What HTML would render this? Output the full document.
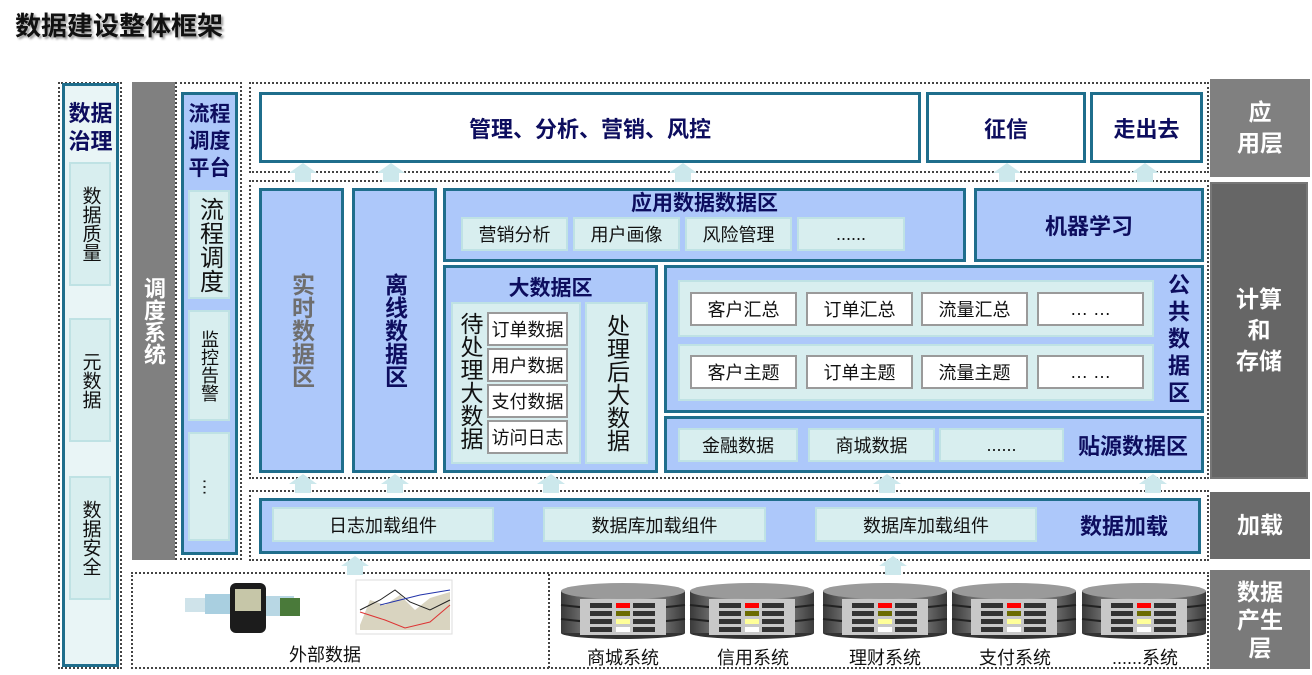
<!DOCTYPE html>
<html><head><meta charset="utf-8"><style>
*{margin:0;padding:0;box-sizing:border-box}
body{width:1312px;height:675px;background:#fff;position:relative;overflow:hidden;font-family:"Liberation Sans","Noto Sans CJK SC",sans-serif}
.a{position:absolute}
.dot{position:absolute;border:2px dotted #444}
.bl{position:absolute;background:#adc8fa;border:3px solid #1f6e8c}
.wh{position:absolute;background:#fff;border:3px solid #1f6e8c}
.lt{position:absolute;background:#d8eeef;border:2px solid #bfe2e4;display:flex;align-items:center;justify-content:center;font-size:18px;color:#111}
.wb{position:absolute;background:#fff;border:2px solid #9a9a9a;display:flex;align-items:center;justify-content:center;font-size:18px;color:#111}
.t{position:absolute;display:flex;align-items:center;justify-content:center;font-weight:bold;color:#0d0d5e;text-align:center}
.g{position:absolute;color:#fff;font-weight:bold;font-size:23px;display:flex;align-items:center;justify-content:center;text-align:center;line-height:31px}
.v{writing-mode:vertical-rl;text-orientation:upright}
</style></head><body>
<div class="a" style="left:15px;top:6px;font-size:26px;font-weight:bold;color:#111;text-shadow:2px 2px 2px #999">数据建设整体框架</div>

<div class="dot" style="left:58px;top:82px;width:64px;height:587px"></div>
<div class="a" style="left:62px;top:83px;width:57px;height:584px;background:#e9f5f6;border:3px solid #1f6e8c"></div>
<div class="t" style="left:62px;top:98px;width:57px;height:60px;font-size:22px;line-height:28px">数据<br>治理</div>
<div class="lt v" style="left:69px;top:162px;width:42px;height:124px;font-size:19px">数据质量</div>
<div class="lt v" style="left:69px;top:318px;width:42px;height:124px;font-size:19px">元数据</div>
<div class="lt v" style="left:69px;top:476px;width:42px;height:124px;font-size:19px">数据安全</div>

<div class="g v" style="left:132px;top:82px;width:43px;height:478px;background:#808080;font-size:22px">调度系统</div>
<div class="dot" style="left:175px;top:82px;width:67px;height:478px"></div>
<div class="bl" style="left:181px;top:92px;width:57px;height:463px"></div>
<div class="t" style="left:181px;top:98px;width:57px;height:86px;font-size:21px;line-height:27px">流程<br>调度<br>平台</div>
<div class="lt v" style="left:188px;top:190px;width:42px;height:109px;font-size:24px">流程调度</div>
<div class="lt v" style="left:188px;top:310px;width:42px;height:111px;font-size:18px">监控告警</div>
<div class="lt" style="left:188px;top:432px;width:42px;height:109px;font-size:18px;writing-mode:vertical-rl">…</div>

<div class="dot" style="left:249px;top:82px;width:960px;height:91px"></div>
<div class="wh t" style="left:259px;top:92px;width:662px;height:71px;font-size:22px">管理、分析、营销、风控</div>
<div class="wh t" style="left:926px;top:92px;width:160px;height:71px;font-size:22px">征信</div>
<div class="wh t" style="left:1090px;top:92px;width:113px;height:71px;font-size:22px">走出去</div>
<div class="g" style="left:1210px;top:79px;width:100px;height:98px;background:#808080">应<br>用层</div>

<div class="dot" style="left:249px;top:180px;width:960px;height:299px"></div>
<div class="bl t v" style="left:259px;top:188px;width:85px;height:285px;font-size:23px;color:#6e6e6e">实时数据区</div>
<div class="bl t v" style="left:352px;top:188px;width:85px;height:285px;font-size:23px">离线数据区</div>
<div class="bl" style="left:443px;top:188px;width:523px;height:74px"></div>
<div class="t" style="left:443px;top:188px;width:523px;height:28px;font-size:21px">应用数据数据区</div>
<div class="lt" style="left:461px;top:217px;width:107px;height:34px">营销分析</div>
<div class="lt" style="left:573px;top:217px;width:107px;height:34px">用户画像</div>
<div class="lt" style="left:685px;top:217px;width:107px;height:34px">风险管理</div>
<div class="lt" style="left:797px;top:217px;width:108px;height:34px">......</div>
<div class="bl t" style="left:974px;top:188px;width:230px;height:74px;font-size:22px">机器学习</div>

<div class="bl" style="left:443px;top:265px;width:215px;height:208px"></div>
<div class="t" style="left:443px;top:273px;width:215px;height:28px;font-size:21px">大数据区</div>
<div class="a" style="left:451px;top:302px;width:130px;height:162px;background:#d8eeef;border:2px solid #bfe2e4"></div>
<div class="a v" style="left:457px;top:312px;width:30px;height:150px;font-size:23px;letter-spacing:0;color:#111">待处理大数据</div>
<div class="wb" style="left:487px;top:312px;width:81px;height:34px">订单数据</div>
<div class="wb" style="left:487px;top:348px;width:81px;height:34px">用户数据</div>
<div class="wb" style="left:487px;top:384px;width:81px;height:34px">支付数据</div>
<div class="wb" style="left:487px;top:420px;width:81px;height:34px">访问日志</div>
<div class="lt v" style="left:585px;top:302px;width:63px;height:162px;font-size:23px">处理后大数据</div>

<div class="bl" style="left:664px;top:265px;width:540px;height:148px"></div>
<div class="a" style="left:678px;top:280px;width:476px;height:57px;background:#d8eeef;border:2px solid #bfe2e4"></div>
<div class="a" style="left:678px;top:344px;width:476px;height:57px;background:#d8eeef;border:2px solid #bfe2e4"></div>
<div class="wb" style="left:690px;top:292px;width:107px;height:34px">客户汇总</div>
<div class="wb" style="left:806px;top:292px;width:107px;height:34px">订单汇总</div>
<div class="wb" style="left:921px;top:292px;width:107px;height:34px">流量汇总</div>
<div class="wb" style="left:1037px;top:292px;width:107px;height:34px">… …</div>
<div class="wb" style="left:690px;top:355px;width:107px;height:34px">客户主题</div>
<div class="wb" style="left:806px;top:355px;width:107px;height:34px">订单主题</div>
<div class="wb" style="left:921px;top:355px;width:107px;height:34px">流量主题</div>
<div class="wb" style="left:1037px;top:355px;width:107px;height:34px">… …</div>
<div class="t v" style="left:1160px;top:270px;width:34px;height:140px;font-size:22px;letter-spacing:5px">公共数据区</div>

<div class="bl" style="left:664px;top:416px;width:540px;height:57px"></div>
<div class="lt" style="left:678px;top:428px;width:120px;height:34px">金融数据</div>
<div class="lt" style="left:808px;top:428px;width:127px;height:34px">商城数据</div>
<div class="lt" style="left:939px;top:428px;width:125px;height:34px">......</div>
<div class="t" style="left:1068px;top:428px;width:130px;height:34px;font-size:22px">贴源数据区</div>
<div class="g" style="left:1210px;top:182px;width:98px;height:297px;background:#666;border:2px solid #777">计算<br>和<br>存储</div>

<div class="dot" style="left:249px;top:490px;width:960px;height:71px"></div>
<div class="bl" style="left:259px;top:498px;width:942px;height:56px"></div>
<div class="lt" style="left:272px;top:507px;width:222px;height:35px">日志加载组件</div>
<div class="lt" style="left:543px;top:507px;width:223px;height:35px">数据库加载组件</div>
<div class="lt" style="left:815px;top:507px;width:222px;height:35px">数据库加载组件</div>
<div class="t" style="left:1060px;top:507px;width:128px;height:35px;font-size:22px">数据加载</div>
<div class="g" style="left:1210px;top:492px;width:100px;height:67px;background:#6b6b6b">加载</div>

<div class="dot" style="left:131px;top:572px;width:1078px;height:97px"></div>
<div class="a" style="left:548px;top:574px;width:0;height:94px;border-left:2px dotted #444"></div>
<div class="g" style="left:1210px;top:570px;width:100px;height:99px;background:#7a7a7a;line-height:28px">数据<br>产生<br>层</div>
<div class="a" style="left:270px;top:641px;width:110px;text-align:center;font-size:18px;color:#111">外部数据</div>
<div class="a" style="left:560px;top:644px;width:126px;text-align:center;font-size:18px;color:#111">商城系统</div>
<div class="a" style="left:690px;top:644px;width:126px;text-align:center;font-size:18px;color:#111">信用系统</div>
<div class="a" style="left:822px;top:644px;width:126px;text-align:center;font-size:18px;color:#111">理财系统</div>
<div class="a" style="left:952px;top:644px;width:126px;text-align:center;font-size:18px;color:#111">支付系统</div>
<div class="a" style="left:1082px;top:644px;width:126px;text-align:center;font-size:18px;color:#111">......系统</div>

<svg class="a" style="left:0;top:0" width="1312" height="675">
<defs>
<linearGradient id="cg" x1="0" x2="1"><stop offset="0" stop-color="#3a3a3a"/><stop offset=".5" stop-color="#cfcfcf"/><stop offset="1" stop-color="#3a3a3a"/></linearGradient>
<g id="up"><path d="M-8,17 V8 H-14 L0,-2 L14,8 H8 V17 Z" fill="#cce8ec"/></g>
<g id="db">
<ellipse cx="62" cy="50" rx="62" ry="6" fill="#333"/>
<rect x="0" y="8" width="124" height="42" fill="url(#cg)"/>
<ellipse cx="62" cy="8" rx="62" ry="8" fill="#9a9a9a"/>
<path d="M0,22 Q62,30 124,22 M0,36 Q62,44 124,36" stroke="#222" stroke-width="2" fill="none"/>
<rect x="19" y="16" width="86" height="36" fill="#c8c8c8"/>
<g fill="#333"><rect x="29" y="20" width="22" height="5"/><rect x="29" y="28" width="22" height="5"/><rect x="29" y="36" width="22" height="5"/><rect x="29" y="44" width="22" height="5"/><rect x="72" y="20" width="22" height="5"/><rect x="72" y="28" width="22" height="5"/><rect x="72" y="36" width="22" height="5"/><rect x="72" y="44" width="22" height="5"/></g>
<rect x="55" y="20" width="14" height="5" fill="#f00"/><rect x="55" y="28" width="14" height="5" fill="#6b6b00"/><rect x="55" y="36" width="14" height="5" fill="#ffff99"/><rect x="55" y="44" width="14" height="5" fill="#fff"/>
</g>
</defs>
<use href="#up" x="303" y="165"/><use href="#up" x="391" y="165"/><use href="#up" x="683" y="165"/><use href="#up" x="1007" y="165"/><use href="#up" x="1145" y="165"/>
<use href="#up" x="303" y="476"/><use href="#up" x="395" y="476"/><use href="#up" x="551" y="476"/><use href="#up" x="887" y="476"/><use href="#up" x="1153" y="476"/>
<use href="#up" x="355" y="558"/><use href="#up" x="893" y="558"/>
<use href="#db" x="561" y="583"/><use href="#db" x="690" y="583"/><use href="#db" x="823" y="583"/><use href="#db" x="952" y="583"/><use href="#db" x="1082" y="583"/>
<g>
<rect x="185" y="598" width="25" height="14" fill="#cfe3ea"/><rect x="205" y="594" width="30" height="20" fill="#a9cfe0"/>
<rect x="262" y="596" width="32" height="20" fill="#b8d7e4"/><rect x="280" y="598" width="20" height="18" fill="#4a7a3a"/>
<rect x="230" y="583" width="36" height="50" rx="6" fill="#1c1c1c"/><rect x="235" y="589" width="26" height="22" fill="#c6c6a8"/>
<rect x="356" y="580" width="96" height="54" fill="#fff" stroke="#ddd"/>
<path d="M360,625 L370,600 L385,605 L400,595 L415,610 L430,598 L450,592 L450,630 L360,630Z" fill="#d9d4c0"/>
<path d="M360,610 L380,600 L395,590 L410,602 L430,610 L450,600" stroke="#222" fill="none"/>
<path d="M360,612 L385,620 L405,628 L430,622 L450,605" stroke="#d33" fill="none"/>
<path d="M380,605 L400,600 L420,595 L450,590" stroke="#2233aa" fill="none"/>
</g>
</svg>
</body></html>
